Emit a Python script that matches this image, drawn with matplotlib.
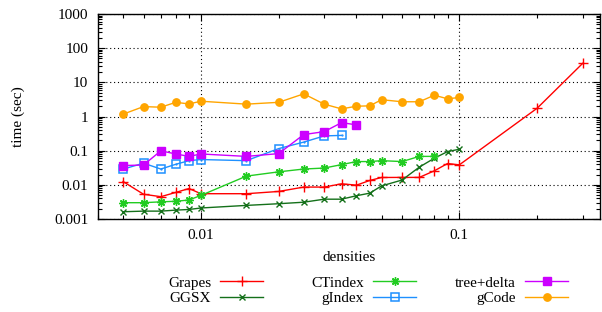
import matplotlib
matplotlib.use("Agg")
import matplotlib.pyplot as plt
from matplotlib.ticker import LogLocator, FixedLocator, FixedFormatter, NullFormatter

plt.rcParams['font.family'] = ['Liberation Serif', 'DejaVu Serif']
plt.rcParams['font.size'] = 11

dens = [0.005, 0.006, 0.007, 0.008, 0.009, 0.01, 0.015, 0.02, 0.025, 0.03,
        0.035, 0.04, 0.045, 0.05, 0.06, 0.07, 0.08, 0.09, 0.1, 0.2, 0.3]

grapes = [0.0125, 0.0053, 0.0045, 0.006, 0.0078, 0.0055, 0.0055, 0.0064, 0.0086, 0.0086,
          0.0107, 0.0098, 0.0134, 0.0164, 0.0165, 0.0165, 0.0257, 0.042, 0.0385, 1.75, 36]
ggsx = [0.00163, 0.0017, 0.0017, 0.00182, 0.0019, 0.0021, 0.0025, 0.0028, 0.0031, 0.0038,
        0.0038, 0.0048, 0.0057, 0.0093, 0.0138, 0.033, 0.060, 0.094, 0.11]
ctindex = [0.003, 0.003, 0.00318, 0.0033, 0.0036, 0.0049, 0.018, 0.024, 0.029, 0.031,
           0.039, 0.048, 0.048, 0.051, 0.048, 0.068, 0.068]
gindex = [0.0288, 0.043, 0.029, 0.040, 0.051, 0.055, 0.051, 0.115, 0.178, 0.27, 0.28]
treedelta = [0.0367, 0.038, 0.099, 0.080, 0.068, 0.080, 0.068, 0.082, 0.296, 0.36, 0.66, 0.57]
gcode = [1.17, 1.95, 1.87, 2.6, 2.33, 2.8, 2.3, 2.6, 4.6, 2.3, 1.67, 2.0, 2.05, 3.1,
         2.7, 2.7, 4.2, 3.3, 3.6]

ytick_vals = [0.001, 0.01, 0.1, 1, 10, 100, 1000]
ytick_labels = ['0.001', '0.01', '0.1', '1', '10', '100', '1000']
xtick_vals = [0.01, 0.1]
xtick_labels = ['0.01', '0.1']

fig = plt.figure(figsize=(6.02, 3.12), dpi=100)
ax = fig.add_axes([98/602, 1 - 219/312, (600-98)/602, (219-14)/312])

series = [
    ('Grapes', grapes, '#ff0000', dict(marker='+', ms=6.5, mew=1.0, mfc='none')),
    ('GGSX', ggsx, '#14701a', dict(marker='x', ms=5, mew=1.0, mfc='none')),
    ('CTindex', ctindex, '#22cc22', dict(marker=(8, 2, 0), ms=6, mew=1.0, mfc='none')),
    ('gIndex', gindex, '#1e90ff', dict(marker='s', ms=5.2, mew=1.1, mfc='none')),
    ('tree+delta', treedelta, '#cc00ff', dict(marker='s', ms=6)),
    ('gCode', gcode, '#ffa500', dict(marker='o', ms=5.3)),
]

handles = []
for name, vals, col, mk in series:
    kw = {'mfc': col}
    kw.update(mk)
    h, = ax.plot(dens[:len(vals)], vals, color=col, lw=1.0, label=name,
                 mec=col, **kw)
    handles.append(h)
    if name == 'gIndex':
        ax.plot(dens[:len(vals)], vals, ls='none', marker='.', ms=1.2, color=col)

ax.set_xscale('log')
ax.set_yscale('log')
ax.set_xlim(0.004, 0.35)
ax.set_ylim(0.001, 1000)

ax.yaxis.set_major_locator(FixedLocator(ytick_vals))
ax.yaxis.set_major_formatter(FixedFormatter(ytick_labels))
ax.xaxis.set_major_locator(FixedLocator(xtick_vals))
ax.xaxis.set_major_formatter(FixedFormatter(xtick_labels))
ax.xaxis.set_minor_locator(LogLocator(base=10, subs=range(2, 10)))
ax.yaxis.set_minor_locator(LogLocator(base=10, subs=range(2, 10)))
ax.xaxis.set_minor_formatter(NullFormatter())
ax.yaxis.set_minor_formatter(NullFormatter())

ax.tick_params(which='both', direction='in', top=True, right=True, labelsize=11)
ax.tick_params(which='major', length=5, width=0.8)
ax.tick_params(which='minor', length=3, width=0.8)
ax.tick_params(axis='x', pad=7)
ax.tick_params(axis='y', pad=7)

ax.grid(True, which='major', ls=(0, (1, 2.5)), color='black', lw=0.8)
for s in ax.spines.values():
    s.set_linewidth(1.0)

ax.set_xlabel('densities', labelpad=7)
ax.set_ylabel('time (sec)', labelpad=21)

cols = [(handles[0:2], 263), (handles[2:4], 416), (handles[4:6], 568)]
for hs, xr in cols:
    leg = fig.legend(handles=hs, labels=[h.get_label() for h in hs],
                     loc='upper right', bbox_to_anchor=(xr/602, 1 - 276/312),
                     frameon=False, markerfirst=False, borderpad=0, borderaxespad=0,
                     handlelength=2.8, handletextpad=0.6, labelspacing=0.1,
                     fontsize=11)

fig.savefig('out.png', dpi=100)
